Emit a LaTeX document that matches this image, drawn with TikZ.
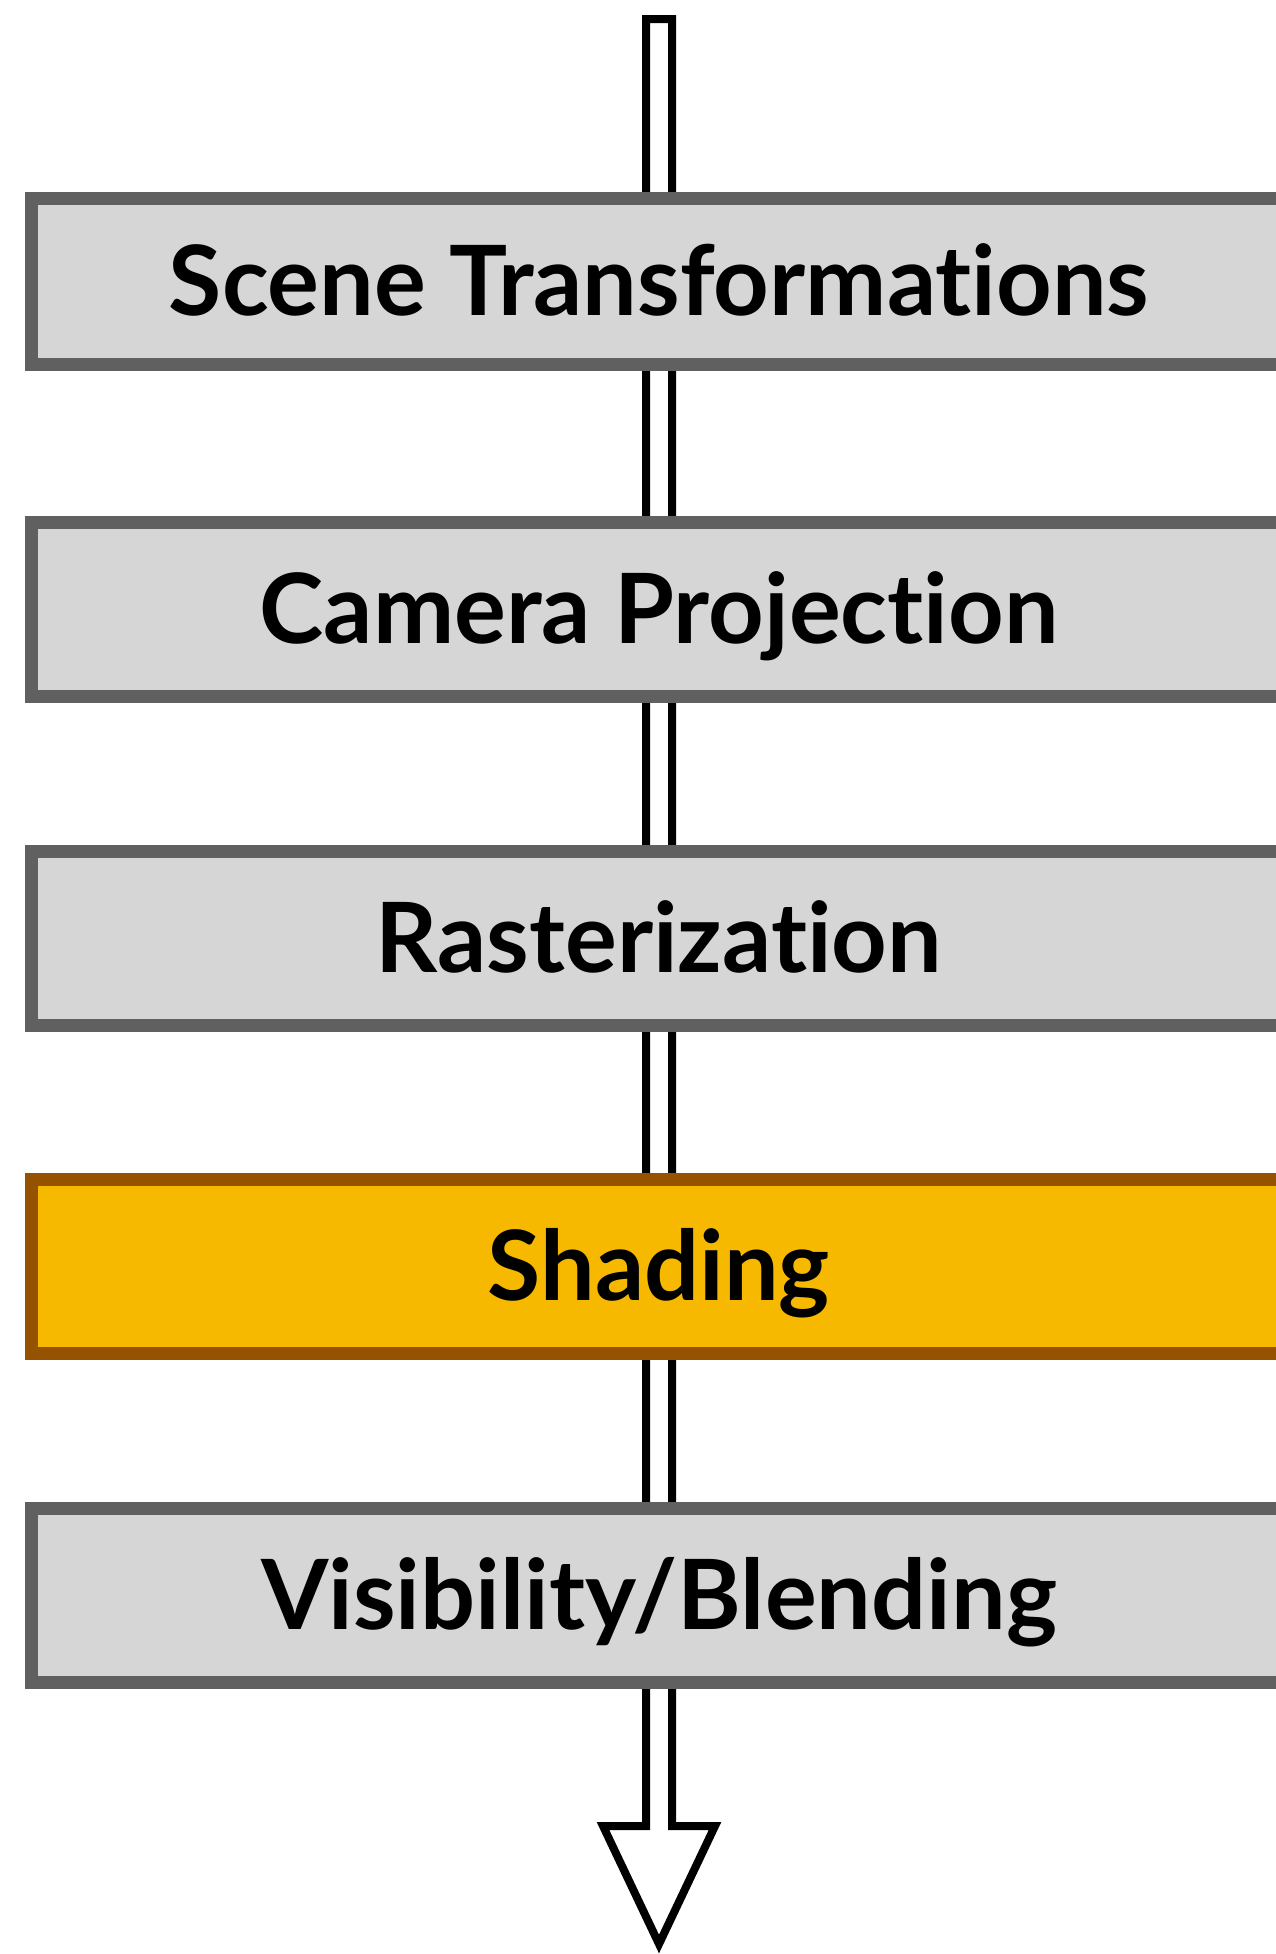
\documentclass[tikz,border=0pt]{standalone}
\usepackage{fontspec}
\setmainfont{Lato}[Ligatures={NoCommon,NoRare,NoContextual}]
\usetikzlibrary{calc}
\definecolor{stageline}{RGB}{96,96,96}
\definecolor{stagefill}{RGB}{214,214,214}
\definecolor{hotline}{RGB}{149,82,0}
\definecolor{hotfill}{RGB}{246,185,0}
\begin{document}
\begin{tikzpicture}%
	[x=1pt, y=-1pt,
	flow/.style={draw=black, fill=white, line width=8pt, miter limit=10},
	stage/.style={draw=stageline, fill=stagefill, line width=13pt, minimum width=1256pt, minimum height=174pt,
		inner sep=0pt, text height=68pt, text depth=0pt,
		font=\fontsize{97}{97}\selectfont\bfseries},
	hot/.style={stage, draw=hotline, fill=hotfill}]
%
\useasboundingbox (0,0) rectangle (1276,1954);
%%
%% Ends of the pipeline arrow:
%%
\coordinate (src) at (659,19);
\coordinate (sink) at (659,1944);
%%
%% Drawing the arrow in the back
%%
\draw[flow] ($(src)+(-13,0)$) -- ($(src)+(13,0)$) -- ($(sink)+(13,-118)$) -- ($(sink)+(56,-118)$)
	-- (sink) -- ($(sink)+(-56,-118)$) -- ($(sink)+(-13,-118)$) -- cycle;
%%
%% Drawing the stages
%%
\node[stage, minimum height=166pt] (scene) at (659,281) {Scene Transformations};
\node[stage] (camera) at (659,609.5) {Camera Projection};
\node[stage] (raster) at (659,938) {Rasterization};
\node[hot] (shading) at (659,1266.5) {Shading};
\node[stage] (blend) at (659,1595) {Visibility/Blending};
%%
\end{tikzpicture}
\end{document}
